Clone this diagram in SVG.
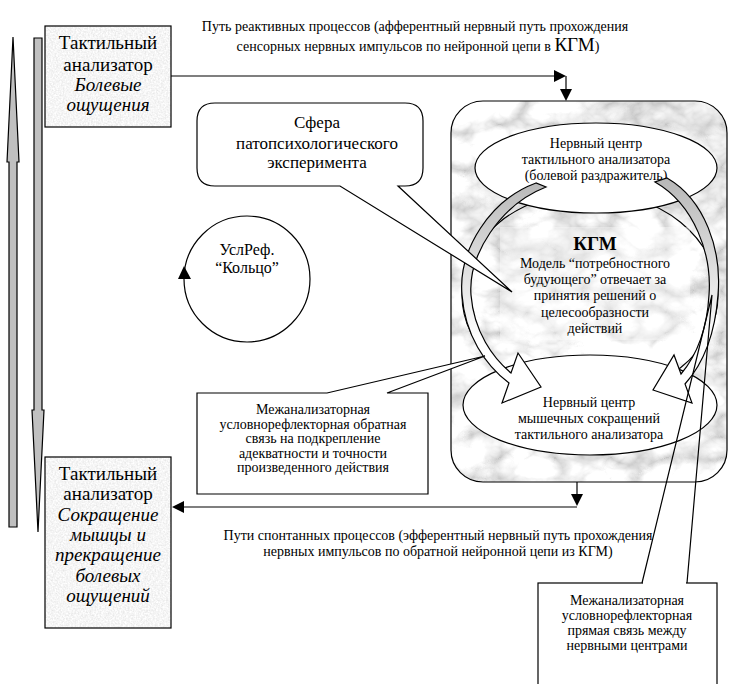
<svg xmlns="http://www.w3.org/2000/svg" width="731" height="684" viewBox="0 0 731 684" font-family="'Liberation Serif','Times New Roman',serif">
<defs>
<style>
text{font-family:"Liberation Serif","Times New Roman",serif;fill:#000;text-anchor:middle}
.big{font-size:19px}
.it{font-style:italic}
.s14{font-size:14px}
.s16{font-size:16px}
.s17{font-size:17px}
.ln{stroke:#000;stroke-width:1.2;fill:none}
.bx{stroke:#000;stroke-width:1.2}
.wt{fill:#fff;stroke:#000;stroke-width:1.2}
.ah{fill:#000;stroke:none}
</style>
<filter id="marble" x="0" y="0" width="1" height="1">
<feTurbulence type="turbulence" baseFrequency="0.018 0.024" numOctaves="4" seed="11"/>
<feColorMatrix type="matrix" values="1.0 0 0 0 0.56  1.0 0 0 0 0.56  1.0 0 0 0 0.56  0 0 0 0 1"/>
<feComposite in2="SourceGraphic" operator="in"/>
</filter>
<filter id="speck" x="0" y="0" width="1" height="1">
<feTurbulence type="fractalNoise" baseFrequency="0.6" numOctaves="2" seed="3"/>
<feColorMatrix type="matrix" values="0.35 0 0 0 0.74  0.35 0 0 0 0.74  0.35 0 0 0 0.74  0 0 0 0 1"/>
<feComposite in2="SourceGraphic" operator="in"/>
</filter>
<linearGradient id="bandL" gradientUnits="userSpaceOnUse" x1="0" y1="180" x2="0" y2="340">
<stop offset="0" stop-color="#b8b8b8"/><stop offset="1" stop-color="#ffffff"/>
</linearGradient>
</defs>

<g id="left-arrows">
<polygon points="13,37 19,162 17,162 17,527 9,527 9,162 7,162" fill="#c0c0c0" stroke="#000" stroke-width="1.2"/>
<polygon points="34,38 42,38 42,410 44,410 38,532 32,410 34,410" fill="#c0c0c0" stroke="#000" stroke-width="1.2"/>
</g>

<g id="box-top">
<rect x="45" y="26" width="126" height="101" fill="#fff" filter="url(#speck)"/>
<rect x="45" y="26" width="126" height="101" fill="none" class="bx"/>
<text class="big" x="108" y="49">Тактильный</text>
<text class="big" x="108" y="71">анализатор</text>
<text class="big it" x="108" y="91">Болевые</text>
<text class="big it" x="108" y="111">ощущения</text>
</g>

<g id="box-bottom">
<rect x="45" y="457" width="126" height="171" fill="#fff" filter="url(#speck)"/>
<rect x="45" y="457" width="126" height="171" fill="none" class="bx"/>
<text class="big" x="108" y="480">Тактильный</text>
<text class="big" x="108" y="500">анализатор</text>
<text class="big it" x="108" y="521">Сокращение</text>
<text class="big it" x="108" y="541">мышцы и</text>
<text class="big it" x="108" y="561">прекращение</text>
<text class="big it" x="108" y="582">болевых</text>
<text class="big it" x="108" y="602">ощущений</text>
</g>

<g id="label-top">
<text class="s14" x="415" y="31">Путь реактивных процессов (афферентный нервный путь прохождения</text>
<text class="s14" x="418" y="51">сенсорных нервных импульсов по нейронной цепи в <tspan font-size="19">КГМ</tspan>)</text>
</g>

<g id="label-bottom">
<text class="s14" x="438" y="540">Пути спонтанных процессов (эфферентный нервный путь прохождения</text>
<text class="s14" x="438" y="556">нервных импульсов по обратной нейронной цепи из КГМ)</text>
</g>

<g id="kgm">
<rect x="451" y="101" width="276" height="381" rx="32" ry="32" fill="#fff" filter="url(#marble)"/>
<rect x="451" y="101" width="276" height="381" rx="32" ry="32" fill="none" class="bx"/>
<ellipse cx="590" cy="295" rx="128" ry="103" class="ln"/>
<rect x="500" y="227" width="190" height="113" fill="#fff" fill-opacity="0.4"/>
<text x="595" y="250" font-size="19" font-weight="bold">КГМ</text>
<text class="s14" x="595" y="268">Модель “потребностного</text>
<text class="s14" x="595" y="284">будующего” отвечает за</text>
<text class="s14" x="595" y="300">принятия решений о</text>
<text class="s14" x="595" y="317">целесообразности</text>
<text class="s14" x="595" y="333">действий</text>
</g>

<g id="center-top">
<ellipse cx="596" cy="168" rx="121" ry="45" class="wt"/>
<text class="s14" x="596" y="148">Нервный центр</text>
<text class="s14" x="596" y="164">тактильного анализатора</text>
<text class="s14" x="596" y="180">(болевой раздражитель)</text>
</g>

<g id="center-bottom">
<ellipse cx="590" cy="405" rx="127" ry="50" class="wt"/>
<text class="s14" x="589" y="407">Нервный центр</text>
<text class="s14" x="589" y="423">мышечных сокращений</text>
<text class="s14" x="589" y="439">тактильного анализатора</text>
</g>

<g id="curved-arrows">
<path d="M536,183 C490,200 458,250 462,295 C465,335 485,365 509,383 L502,403 L541,387 L518,353 L511,373 C493,358 474,332 471,295 C468,255 500,205 546,187 Z" fill="url(#bandL)" stroke="#000" stroke-width="1.2"/>
<path d="M667,178 C705,200 722,250 718,295 C715,335 703,364 685,384 L692,403 L653,390 L674,355 L681,374 C697,355 707,330 709,295 C712,255 695,205 655,182 Z" fill="url(#bandL)" stroke="#000" stroke-width="1.2"/>
</g>

<g id="sphere">
<path d="M215,103 H405 Q423,103 423,121 V168 Q423,186 405,186 H398 L512,292 L340,186 H215 Q197,186 197,168 V121 Q197,103 215,103 Z" class="wt"/>
<text class="s17" x="317" y="128">Сфера</text>
<text class="s17" x="317" y="149">патопсихологического</text>
<text class="s17" x="317" y="168">эксперимента</text>
</g>

<g id="ring">
<circle cx="247" cy="279" r="63" class="ln"/>
<polygon points="184,266 191,279 178,279" class="ah"/>
<text class="s16" x="247" y="255">УслРеф.</text>
<text class="s16" x="247" y="273">“Кольцо”</text>
</g>

<g id="feedback">
<path d="M197,393 H327 L485,356 L387,393 H428 V494 H197 Z" class="wt"/>
<text class="s14" x="313" y="414">Межанализаторная</text>
<text class="s14" x="313" y="429">условнорефлекторная обратная</text>
<text class="s14" x="313" y="443">связь на подкрепление</text>
<text class="s14" x="313" y="458">адекватности и точности</text>
<text class="s14" x="313" y="472">произведенного действия</text>
</g>

<g id="direct-link">
<rect x="538" y="583" width="179" height="110" class="wt"/>
<path d="M642,583 L712,295 L687,583" class="ln"/>
<line x1="643" y1="583" x2="686" y2="583" stroke="#fff" stroke-width="2"/>
<text class="s14" x="627" y="605">Межанализаторная</text>
<text class="s14" x="627" y="620">условнорефлекторная</text>
<text class="s14" x="627" y="635">прямая связь между</text>
<text class="s14" x="627" y="650">нервными центрами</text>
</g>

<g id="connectors">
<line x1="171" y1="76" x2="555" y2="76" class="ln"/>
<polygon points="566,76 554,70 554,82" class="ah"/>
<line x1="566" y1="76" x2="566" y2="90" class="ln"/>
<polygon points="566,101 560,89 572,89" class="ah"/>
<line x1="577" y1="482" x2="577" y2="495" class="ln"/>
<polygon points="577,506 571,494 583,494" class="ah"/>
<line x1="577" y1="507" x2="183" y2="507" class="ln"/>
<polygon points="172,507 184,501 184,513" class="ah"/>
</g>
</svg>
